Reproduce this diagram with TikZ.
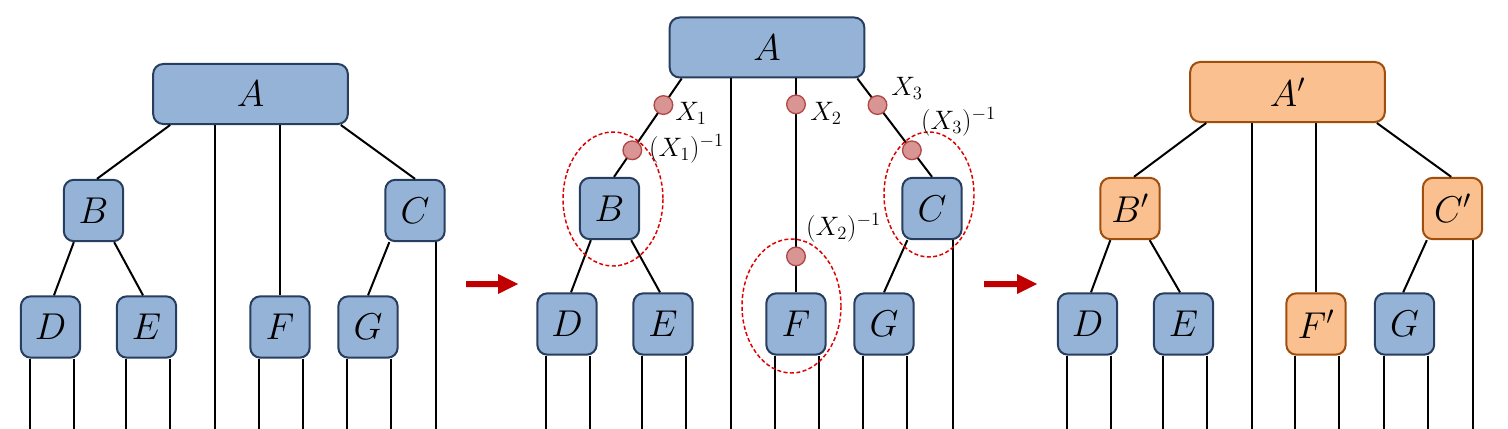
\RequirePackage{fix-cm}
\documentclass[tikz,border=0pt]{standalone}
\definecolor{boxblue}{RGB}{149,179,215}
\definecolor{boxblueline}{RGB}{40,62,94}
\definecolor{boxorange}{RGB}{250,192,144}
\definecolor{boxorangeline}{RGB}{160,78,12}
\definecolor{dotred}{RGB}{217,149,148}
\definecolor{dotredline}{RGB}{176,72,70}
\definecolor{ringred}{RGB}{222,0,0}
\definecolor{arrowred}{RGB}{192,0,0}
\tikzset{every picture/.style={line width=1.5pt}}
\tikzset{
  bluebox/.style={draw=boxblueline,fill=boxblue,rounded corners=7.5pt,line width=1.5pt,
    minimum width=44.5pt,minimum height=46pt,inner sep=0pt,font=\fontsize{28}{32}\selectfont},
  orangebox/.style={bluebox,draw=boxorangeline,fill=boxorange},
  widebox/.style={minimum width=146pt,minimum height=45pt},
  dot/.style={circle,draw=dotredline,fill=dotred,line width=1pt,minimum size=14pt,inner sep=0pt},
  ring/.style={draw=ringred,line width=1.1pt,dash pattern=on 3pt off 1.8pt},
  lbl/.style={inner sep=0pt,font=\fontsize{20}{24}\selectfont},
}
\begin{document}
\begin{tikzpicture}[x=0.75pt,y=0.75pt,yscale=-1,xscale=1]
	\useasboundingbox (0,0) rectangle (1508,428);
	\clip (0,0) rectangle (1508,428);

	%%%%% left tree
	% Node
	\node[bluebox,widebox] (lA) at (250.5,94) {$A$};
	\node[bluebox] (lB) at (93.5,210.5) {$B$};
	\node[bluebox] (lC) at (415,210.5) {$C$};
	\node[bluebox] (lD) at (50.5,327) {$D$};
	\node[bluebox] (lE) at (146.5,327) {$E$};
	\node[bluebox] (lF) at (280,327) {$F$};
	\node[bluebox] (lG) at (368,327) {$G$};
	%Straight Lines
	\draw ([xshift=13.5pt]lA.south west) -- ([xshift=2.6pt]lB.north);
	\draw ([xshift=47.25pt]lA.south west) -- ++(0,330);
	\draw (lA.south -| lF.north) -- (lF.north);
	\draw ([xshift=-6pt]lA.south east) -- (lC.north);
	\draw ([xshift=8.25pt]lB.south west) -- ([xshift=2.6pt]lD.north);
	\draw ([xshift=-7.5pt]lB.south east) -- ([xshift=-2.6pt]lE.north);
	\draw ([xshift=3.75pt]lC.south west) -- (lG.north);
	\draw ([xshift=-7.5pt]lC.south east) -- ++(0,200);
	%Leaf Lines
	\draw ([xshift=-15.5pt]lD.south) -- ++(0,80) ([xshift=17.5pt]lD.south) -- ++(0,80);
	\draw ([xshift=-15.5pt]lE.south) -- ++(0,80) ([xshift=17.5pt]lE.south) -- ++(0,80);
	\draw ([xshift=-15.5pt]lF.south) -- ++(0,80) ([xshift=17.5pt]lF.south) -- ++(0,80);
	\draw ([xshift=-15.5pt]lG.south) -- ++(0,80) ([xshift=17.5pt]lG.south) -- ++(0,80);

	%Shape: Block Arrow
	\fill[arrowred] (466,281) -- (498,281) -- (498,274) -- (518,284) -- (498,294) -- (498,287) -- (466,287) -- cycle;

	%%%%% middle tree
	% Node
	\node[bluebox,widebox] (mA) at (767,47.5) {$A$};
	\node[bluebox] (mB) at (609.5,208.5) {$B$};
	\node[bluebox] (mC) at (932,208.5) {$C$};
	\node[bluebox] (mD) at (567,324) {$D$};
	\node[bluebox] (mE) at (663,324) {$E$};
	\node[bluebox] (mF) at (796,324) {$F$};
	\node[bluebox] (mG) at (884,324) {$G$};
	%Straight Lines with dots
	\draw ([xshift=9.75pt]mA.south west) -- ([xshift=3.4pt]mB.north)
		node[dot,pos=0.27] (mX1) {} node[dot,pos=0.73] (mY1) {};
	\draw ([xshift=46.5pt]mA.south west) -- ++(0,380);
	\draw (mA.south -| mF.north) -- (mF.north)
		node[dot,pos=0.121] (mX2) {} node[dot,pos=0.832] (mY2) {};
	\draw ([xshift=-6pt]mA.south east) -- (mC.north)
		node[dot,pos=0.27] (mX3) {} node[dot,pos=0.73] (mY3) {};
	\draw ([xshift=9pt]mB.south west) -- ([xshift=3pt]mD.north);
	\draw ([xshift=-6.75pt]mB.south east) -- ([xshift=-2.25pt]mE.north);
	\draw ([xshift=4.5pt]mC.south west) -- (mG.north);
	\draw ([xshift=-7.5pt]mC.south east) -- ++(0,200);
	%Leaf Lines
	\draw ([xshift=-15.5pt]mD.south) -- ++(0,80) ([xshift=17.5pt]mD.south) -- ++(0,80);
	\draw ([xshift=-15.5pt]mE.south) -- ++(0,80) ([xshift=17.5pt]mE.south) -- ++(0,80);
	\draw ([xshift=-15.5pt]mF.south) -- ++(0,80) ([xshift=17.5pt]mF.south) -- ++(0,80);
	\draw ([xshift=-15.5pt]mG.south) -- ++(0,80) ([xshift=17.5pt]mG.south) -- ++(0,80);
	%Shape: Ellipse
	\draw[ring] (613,199) ellipse [x radius=50,y radius=67];
	\draw[ring] (791.5,306) ellipse [x radius=49.5,y radius=67];
	\draw[ring] (929,194.5) ellipse [x radius=45,y radius=62.5];
	% Text Node
	\node[lbl] (tX1) at (691,113) {$X_1$};
	\node[lbl] (tY1) at (686.5,149) {$(X_1)^{-1}$};
	\node[lbl] (tX2) at (826,113) {$X_2$};
	\node[lbl] (tY2) at (843.5,228) {$(X_2)^{-1}$};
	\node[lbl] (tX3) at (907,88) {$X_3$};
	\node[lbl] (tY3) at (958.5,122) {$(X_3)^{-1}$};

	%Shape: Block Arrow
	\fill[arrowred] (984,281) -- (1017,281) -- (1017,274) -- (1037,284) -- (1017,294) -- (1017,287) -- (984,287) -- cycle;

	%%%%% right tree
	% Node
	\node[orangebox,widebox] (rA) at (1287.5,92) {$A'$};
	\node[orangebox] (rB) at (1130,208.5) {$B'$};
	\node[orangebox] (rC) at (1452.5,208.5) {$C'$};
	\node[bluebox] (rD) at (1087.5,324) {$D$};
	\node[bluebox] (rE) at (1183.5,324) {$E$};
	\node[orangebox] (rF) at (1316,324) {$F'$};
	\node[bluebox] (rG) at (1404.5,324) {$G$};
	%Straight Lines
	\draw ([xshift=12.75pt]rA.south west) -- ([xshift=3pt]rB.north);
	\draw ([xshift=47.25pt]rA.south west) -- ++(0,330);
	\draw (rA.south -| rF.north) -- (rF.north);
	\draw ([xshift=-6.75pt]rA.south east) -- ([xshift=-1pt]rC.north);
	\draw ([xshift=8.25pt]rB.south west) -- ([xshift=2.6pt]rD.north);
	\draw ([xshift=-8.25pt]rB.south east) -- ([xshift=-2.6pt]rE.north);
	\draw ([xshift=3.75pt]rC.south west) -- ([xshift=-1pt]rG.north);
	\draw ([xshift=-7.5pt]rC.south east) -- ++(0,200);
	%Leaf Lines
	\draw ([xshift=-15.5pt]rD.south) -- ++(0,80) ([xshift=17.5pt]rD.south) -- ++(0,80);
	\draw ([xshift=-15.5pt]rE.south) -- ++(0,80) ([xshift=17.5pt]rE.south) -- ++(0,80);
	\draw ([xshift=-15.5pt]rF.south) -- ++(0,80) ([xshift=17.5pt]rF.south) -- ++(0,80);
	\draw ([xshift=-15.5pt]rG.south) -- ++(0,80) ([xshift=17.5pt]rG.south) -- ++(0,80);

\end{tikzpicture}
\end{document}
